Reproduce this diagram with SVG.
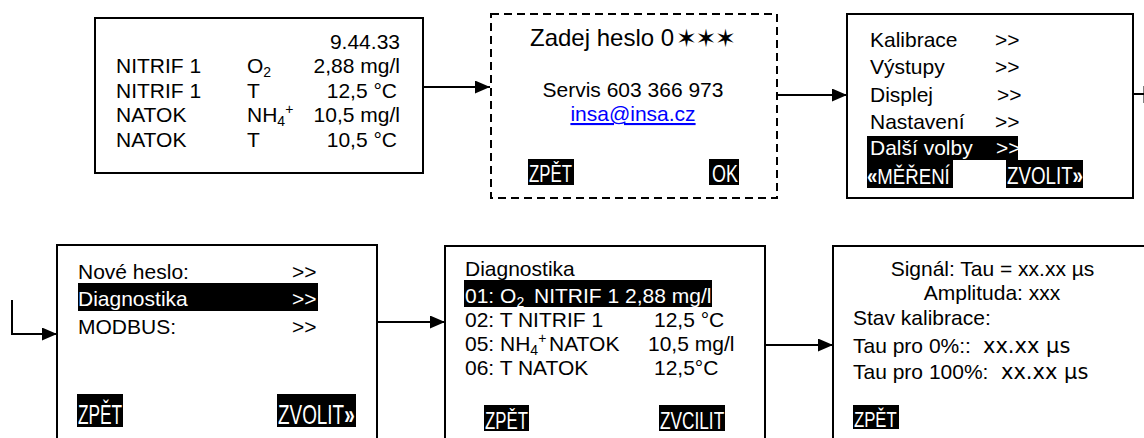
<svg xmlns="http://www.w3.org/2000/svg" width="1144" height="438" viewBox="0 0 1144 438">
<style>
text{font-family:"Liberation Sans",Arial,sans-serif;font-size:21px;fill:#000}
.box{fill:#fff;stroke:#000;stroke-width:2}
.dash{fill:#fff;stroke:#000;stroke-width:2;stroke-dasharray:8 5}
.hl{fill:#000}
.w{fill:#fff}
.btn{fill:#fff;font-size:23px}
.btnL{fill:#fff;font-size:27px}
.sm{font-size:14px}
.hd{font-size:24px}
.dv{font-family:"DejaVu Sans",sans-serif;font-size:21px}
.star{font-family:"DejaVu Sans",sans-serif;font-size:25px}
.conn{fill:none;stroke:#000;stroke-width:2}
.b{font-weight:bold}
</style>
<defs>
<marker id="ah" markerUnits="userSpaceOnUse" markerWidth="16" markerHeight="14" refX="15" refY="6.5" orient="auto">
<path d="M0,0 L15,6.5 L0,13 z" fill="#000"/>
</marker>
</defs>
<rect width="1144" height="438" fill="#fff"/>

<g id="connectors">
<line class="conn" x1="423" y1="87" x2="490" y2="87" marker-end="url(#ah)"/>
<line class="conn" x1="778" y1="95" x2="847" y2="95" marker-end="url(#ah)"/>
<path class="conn" d="M1133,94 H1145 M1144.5,86 V103"/>
<path class="conn" d="M12,300 V334 H57" marker-end="url(#ah)"/>
<line class="conn" x1="377" y1="322" x2="445" y2="322" marker-end="url(#ah)"/>
<line class="conn" x1="765" y1="345" x2="833" y2="345" marker-end="url(#ah)"/>
</g>

<g id="node-measure">
<rect class="box" x="95" y="18" width="328" height="155"/>
<text x="400" y="48.5" text-anchor="end">9.44.33</text>
<text x="116" y="73">NITRIF 1</text>
<text x="247" y="73">O<tspan class="sm" dy="4">2</tspan></text>
<text x="400" y="73" text-anchor="end">2,88 mg/l</text>
<text x="116" y="97.5">NITRIF 1</text>
<text x="247" y="97.5">T</text>
<text x="397" y="97.5" text-anchor="end">12,5 °C</text>
<text x="116" y="122">NATOK</text>
<text x="247" y="122">NH<tspan class="sm" dy="4">4</tspan><tspan class="sm" dy="-12">+</tspan></text>
<text x="400" y="122" text-anchor="end">10,5 mg/l</text>
<text x="116" y="146.5">NATOK</text>
<text x="247" y="146.5">T</text>
<text x="397" y="146.5" text-anchor="end">10,5 °C</text>
</g>

<g id="node-password">
<rect class="dash" x="491" y="14" width="286" height="184"/>
<text class="hd" x="530" y="46">Zadej heslo 0</text>
<text class="star" x="676" y="47">✶</text>
<text class="star" x="695.5" y="47">✶</text>
<text class="star" x="715" y="47">✶</text>
<text x="633" y="97" text-anchor="middle">Servis 603 366 973</text>
<text x="633" y="121" text-anchor="middle" style="fill:#0000ff;text-decoration:underline">insa@insa.cz</text>
<rect class="hl" x="528" y="159" width="46" height="26"/>
<text class="btn" transform="translate(529,182) scale(0.73,1)">ZPĚT</text>
<rect class="hl" x="709" y="159" width="30" height="26"/>
<text class="btn" transform="translate(712,182) scale(0.78,1)">OK</text>
</g>

<g id="node-menu">
<rect class="box" x="847" y="14" width="286" height="184"/>
<text x="870" y="46.5">Kalibrace</text><text x="995" y="46.5">&gt;&gt;</text>
<text x="870" y="74">Výstupy</text><text x="995" y="74">&gt;&gt;</text>
<text x="870" y="101.5">Displej</text><text x="997" y="101.5">&gt;&gt;</text>
<text x="870" y="129">Nastavení</text><text x="995" y="129">&gt;&gt;</text>
<rect class="hl" x="867" y="136" width="151" height="24"/>
<text class="w" x="870" y="155">Další volby</text><text class="w" x="996" y="155">&gt;&gt;</text>
<rect class="hl" x="867" y="160" width="86" height="28"/>
<rect class="hl" x="1006" y="160" width="77" height="28"/>
<text class="btn" transform="translate(867,184) scale(0.81,1)"><tspan class="b">«</tspan>MĚŘENÍ</text>
<text class="btn" transform="translate(1007,184) scale(0.815,1)">ZVOLIT<tspan class="b">»</tspan></text>
</g>

<g id="node-more">
<rect class="box" x="57" y="245" width="320" height="210"/>
<text x="78" y="279">Nové heslo:</text><text x="292" y="279">&gt;&gt;</text>
<rect class="hl" x="78" y="283" width="240" height="28"/>
<text class="w" x="78" y="305.5">Diagnostika</text><text class="w" x="292" y="305.5">&gt;&gt;</text>
<text x="78" y="333.5">MODBUS:</text><text x="292" y="333.5">&gt;&gt;</text>
<rect class="hl" x="77" y="394" width="46" height="33"/>
<text class="btnL" transform="translate(78,424) scale(0.64,1)">ZPĚT</text>
<rect class="hl" x="277" y="394" width="79" height="33"/>
<text class="btnL" transform="translate(278,424) scale(0.70,1)">ZVOLIT<tspan class="b">»</tspan></text>
</g>

<g id="node-diag">
<rect class="box" x="445" y="246" width="320" height="210"/>
<text x="465" y="276">Diagnostika</text>
<rect class="hl" x="464" y="280" width="248" height="27"/>
<text class="w" x="465" y="303">01: O<tspan class="sm" dy="4">2</tspan><tspan x="534" dy="-4">NITRIF 1</tspan><tspan x="625">2,88 mg/l</tspan></text>
<text x="465" y="327">02: T NITRIF 1</text><text x="654" y="327">12,5 °C</text>
<text x="465" y="350.5">05: NH<tspan class="sm" dy="4">4</tspan><tspan class="sm" dy="-12">+</tspan><tspan x="549" dy="8">NATOK</tspan></text>
<text x="648" y="350.5">10,5 mg/l</text>
<text x="465" y="374.5">06: T NATOK</text><text x="654" y="374.5">12,5°C</text>
<rect class="hl" x="484" y="405" width="45" height="26"/>
<text class="btn" transform="translate(485,428.5) scale(0.73,1)">ZPĚT</text>
<rect class="hl" x="659" y="405" width="66" height="26"/>
<text class="btn" transform="translate(660,428.5) scale(0.75,1)">ZVCILIT</text>
</g>

<g id="node-signal">
<rect class="box" x="833" y="246" width="330" height="210"/>
<text x="992.5" y="276" text-anchor="middle">Signál: Tau = xx.xx µs</text>
<text x="992" y="300" text-anchor="middle">Amplituda: xxx</text>
<text x="853" y="325">Stav kalibrace:</text>
<text x="853" y="352.5">Tau pro 0%::</text><text class="dv" x="983" y="352.5">xx.xx µs</text>
<text x="853" y="379">Tau pro 100%:</text><text class="dv" x="1001" y="379">xx.xx µs</text>
<rect class="hl" x="853" y="405" width="46" height="24"/>
<text class="btn" transform="translate(854,427) scale(0.76,1)" style="font-size:22px">ZPĚT</text>
</g>
</svg>
